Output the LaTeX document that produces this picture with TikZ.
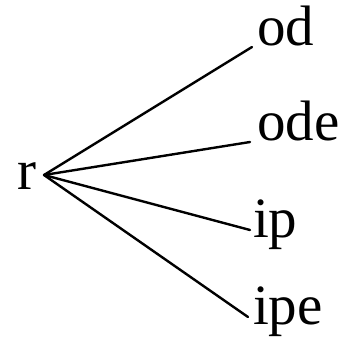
\documentclass[tikz,border=0pt]{standalone}
\usepackage{fontspec}
\setmainfont{Liberation Serif}
\usetikzlibrary{positioning}

\begin{document}
\begin{tikzpicture}[
    x=1pt, y=-1pt,
    word/.style={
        inner sep=0pt, outer sep=0pt,
        font=\fontsize{57}{60}\selectfont
    },
    leaf/.style={word, anchor=base west},
    % branches of the tree
    branch/.style={line width=2.4pt, line cap=round},
]
\useasboundingbox (0,0) rectangle (354,349);

%% =================================================================
%% Root and leaves
%% =================================================================
\node[word, anchor=base east] at (36, 189) (root) {r};
\coordinate (fork) at (44, 175);

\node[leaf] at (257, 45) (od) {od};
\node[leaf] at (257, 140) (ode) {ode};
\node[leaf] at (253, 237) (ip) {ip};
\node[leaf] at (253, 324) (ipe) {ipe};

%% =================================================================
%% Branches
%% =================================================================
\draw[branch] (fork) -- ([shift={(-5pt,-2pt)}]od.base west);
\draw[branch] (fork) -- ([shift={(-7pt,-2pt)}]ode.base west);
\draw[branch] (fork) -- ([shift={(-3pt,7pt)}]ip.base west);
\draw[branch] (fork) -- ([shift={(-5pt,7pt)}]ipe.base west);

\end{tikzpicture}
\end{document}
